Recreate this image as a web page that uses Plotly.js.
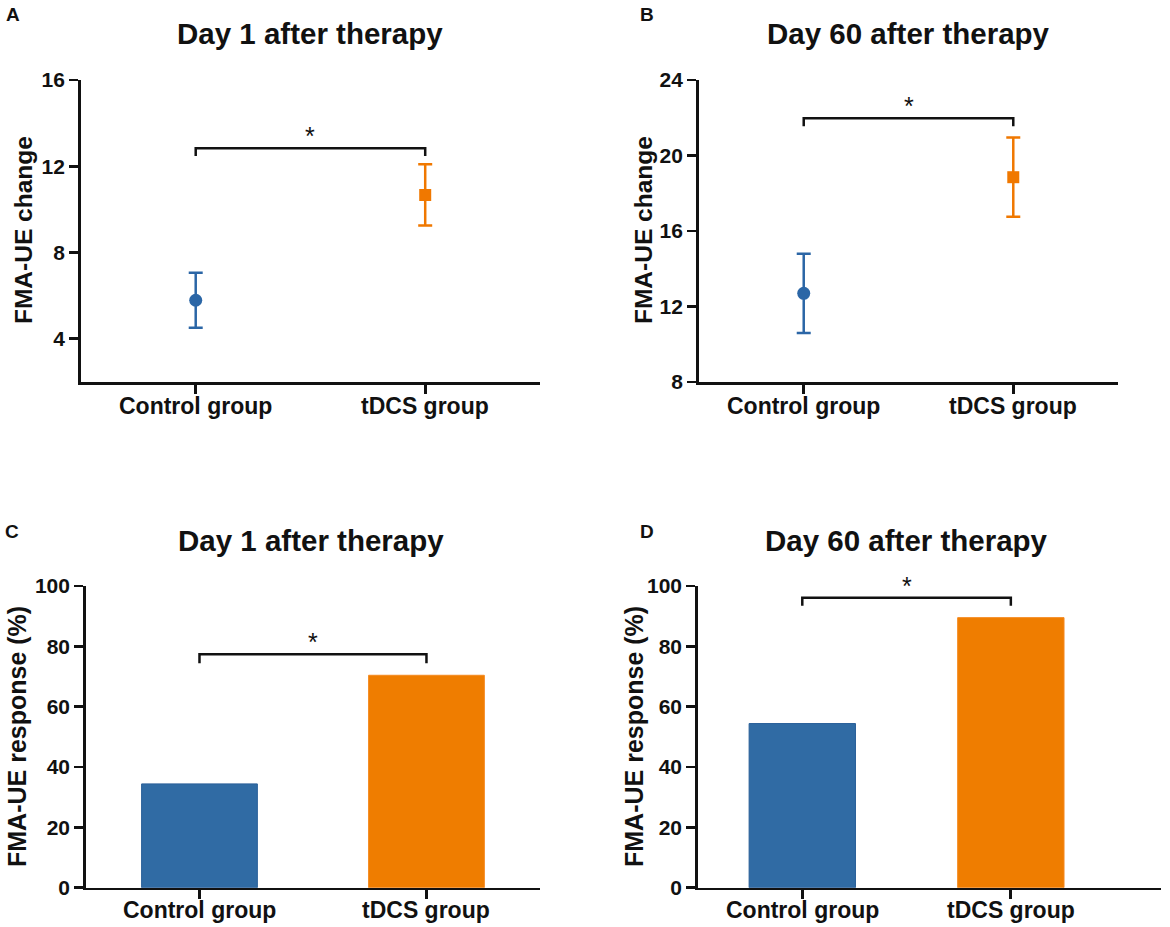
<!DOCTYPE html>
<html>
<head>
<meta charset="utf-8">
<script src="https://cdn.plot.ly/plotly-3.0.1.min.js"></script>
<style>
  html, body { margin: 0; padding: 0; background: #fff; }
  #chart { width: 1170px; height: 927px; }
</style>
</head>
<body>
<div id="chart"></div>
<script>
// groups on the x axis
let groups = ['Control group', 'tDCS group']

// FMA-UE change, mean and error (panels A, B)
let day1Change = [5.79, 10.67]
let day1ChangeErr = [1.28, 1.42]
let day60Change = [12.7, 18.85]
let day60ChangeErr = [2.1, 2.1]

// FMA-UE response % (panels C, D)
let day1Response = [34.4, 70.4]
let day60Response = [54.4, 89.5]

// significance brackets: [end level, bar level]
let bracketA = [12.48, 12.84]
let bracketB = [21.55, 21.98]
let bracketC = [74.4, 77.4]
let bracketD = [93.4, 96.1]

let blue = '#2B66A6'
let orange = '#F07800'
let barBlue = '#306BA4'
let barOrange = '#EF7D00'
let fontFam = 'Liberation Sans, Arial, sans-serif'

function bracketTrace(lv, xa, ya){
  return {
    x: [groups[0], groups[0], groups[1], groups[1]],
    y: [lv[0], lv[1], lv[1], lv[0]],
    xaxis: xa, yaxis: ya,
    mode: 'lines', type: 'scatter',
    line: {color: '#111', width: 2.5},
    hoverinfo: 'skip', showlegend: false
  }
}

function pointTrace(i, vals, errs, xa, ya){
  let col = i === 0 ? blue : orange
  return {
    x: [groups[i]], y: [vals[i]],
    xaxis: xa, yaxis: ya,
    type: 'scatter', mode: 'markers',
    marker: {color: col, size: i === 0 ? 13 : 12, symbol: i === 0 ? 'circle' : 'square'},
    error_y: {type: 'data', array: [errs[i]], visible: true, color: col, thickness: 2.5, width: 7},
    showlegend: false
  }
}

let graph_data = [
  pointTrace(0, day1Change, day1ChangeErr, 'x', 'y'),
  pointTrace(1, day1Change, day1ChangeErr, 'x', 'y'),
  bracketTrace(bracketA, 'x', 'y'),
  pointTrace(0, day60Change, day60ChangeErr, 'x2', 'y2'),
  pointTrace(1, day60Change, day60ChangeErr, 'x2', 'y2'),
  bracketTrace(bracketB, 'x2', 'y2'),
  {
    x: groups, y: day1Response, xaxis: 'x3', yaxis: 'y3', type: 'bar', width: 0.51,
    marker: {color: [barBlue, barOrange], line: {color: ['#2A5F99', '#F58A1F'], width: 1}},
    showlegend: false
  },
  bracketTrace(bracketC, 'x3', 'y3'),
  {
    x: groups, y: day60Response, xaxis: 'x4', yaxis: 'y4', type: 'bar', width: 0.51,
    marker: {color: [barBlue, barOrange], line: {color: ['#2A5F99', '#F58A1F'], width: 1}},
    showlegend: false
  },
  bracketTrace(bracketD, 'x4', 'y4')
]

// category labels sit close under the axis, so they are drawn as annotations
function xAxis(dom, range, anchor){
  return {
    domain: dom, range: range, anchor: anchor, type: 'category',
    showline: true, linewidth: 2.8, linecolor: '#111',
    ticks: 'outside', ticklen: 9, tickwidth: 2.8, tickcolor: '#111',
    showgrid: false, zeroline: false, automargin: false, showticklabels: false
  }
}
function yAxis(dom, range, dtick, anchor){
  return {
    domain: dom, range: range, anchor: anchor, dtick: dtick, tick0: 0,
    showline: true, linewidth: 2.8, linecolor: '#111',
    ticks: 'outside', ticklen: 9, tickwidth: 2.8, tickcolor: '#111',
    showgrid: false, zeroline: false, automargin: false,
    tickfont: {size: 21, family: fontFam, weight: 'bold', color: '#111'}
  }
}

let topY = [0.5879, 0.9137]
let botY = [0.0424, 0.3679]

function star(xa, ya, lv){
  return {xref: xa, yref: ya, x: 0.5, y: lv[1], text: '*', showarrow: false,
    yanchor: 'bottom', yshift: -4, font: {size: 25, family: fontFam, color: '#111'}}
}
function paperText(x, y, txt, size, anchor, angle){
  return {xref: 'paper', yref: 'paper', x: x / 1170, y: 1 - y / 927, text: txt, showarrow: false,
    xanchor: anchor, yanchor: 'middle', textangle: angle || 0,
    font: {size: size, family: fontFam, weight: 'bold', color: '#111'}}
}
function catLabels(xa, y){
  return groups.map(g => ({xref: xa, yref: 'paper', x: g, y: 1 - y / 927, text: g,
    showarrow: false, xanchor: 'center', yanchor: 'middle',
    font: {size: 23, family: fontFam, weight: 'bold', color: '#111'}}))
}

var layout = {
  width: 1170, height: 927,
  margin: {l: 0, r: 0, t: 0, b: 0},
  paper_bgcolor: '#fff', plot_bgcolor: '#fff',
  font: {family: fontFam, color: '#111'},
  xaxis: xAxis([0.0692, 0.4615], [-0.5, 1.5], 'y'),
  yaxis: yAxis(topY, [2, 16], 4, 'x'),
  xaxis2: xAxis([0.5974, 0.9556], [-0.5, 1.5], 'y2'),
  yaxis2: yAxis(topY, [8, 24], 4, 'x2'),
  xaxis3: xAxis([0.0735, 0.4615], [-0.5, 1.5], 'y3'),
  yaxis3: yAxis(botY, [0, 100], 20, 'x3'),
  xaxis4: xAxis([0.5966, 0.9923], [-0.5, 1.72], 'y4'),
  yaxis4: yAxis(botY, [0, 100], 20, 'x4'),
  annotations: [
    star('x', 'y', bracketA), star('x2', 'y2', bracketB),
    star('x3', 'y3', bracketC), star('x4', 'y4', bracketD),
    ...catLabels('x', 406), ...catLabels('x2', 406),
    ...catLabels('x3', 910), ...catLabels('x4', 910),
    paperText(310, 33, 'Day 1 after therapy', 29.5, 'center'),
    paperText(908, 33, 'Day 60 after therapy', 29.5, 'center'),
    paperText(311, 540, 'Day 1 after therapy', 29.5, 'center'),
    paperText(906, 540, 'Day 60 after therapy', 29.5, 'center'),
    paperText(23, 230, 'FMA-UE change', 24.5, 'center', -90),
    paperText(643, 230, 'FMA-UE change', 24.5, 'center', -90),
    paperText(17, 737, 'FMA-UE response (%)', 25, 'center', -90),
    paperText(634, 737, 'FMA-UE response (%)', 25, 'center', -90),
    paperText(4, 14, 'A', 19, 'left'),
    paperText(638, 14, 'B', 19, 'left'),
    paperText(3, 531, 'C', 19, 'left'),
    paperText(638, 531, 'D', 19, 'left')
  ]
}

Plotly.newPlot('chart', graph_data, layout, {staticPlot: true, displayModeBar: false})
</script>
</body>
</html>
